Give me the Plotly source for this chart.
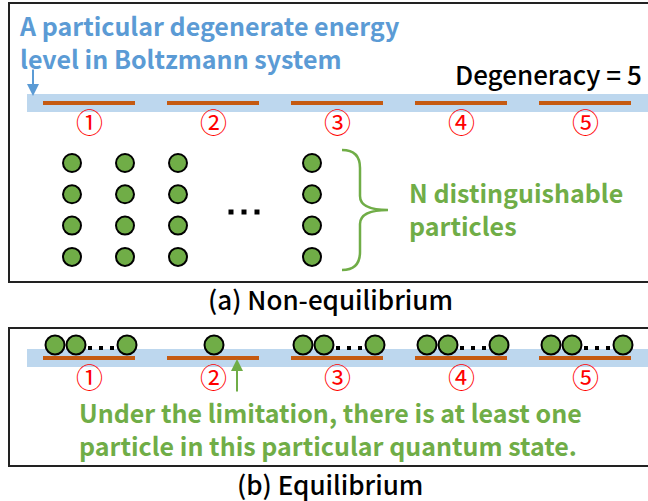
import plotly.graph_objects as go

# ---- diagram data ----
STATES = ["①", "②", "③", "④", "⑤"]
DEGENERACY = len(STATES)
N_ROWS = 4            # rows of particles drawn in the non-equilibrium panel
N_LEFT_COLS = 3       # columns drawn before the "..." (then the N-th column)
EQ_MANY = [True, False, True, True, True]   # equilibrium: many particles or exactly one

TITLE_LINES = ["A particular degenerate energy", "level in Boltzmann system"]
PARTICLE_LINES = ["N distinguishable", "particles"]
NOTE_LINES = ["Under the limitation, there is at least one",
              "particle in this particular quantum state."]
CAPTIONS = ["(a) Non-equilibrium", "(b) Equilibrium"]

GREEN = "#70AD47"
BLUE = "#5B9BD5"
BAND = "#BDD7EE"
ORANGE = "#C55A11"
RED = "#FF0000"
FONT = "Noto Sans CJK SC"

W, H = 648, 501
state_x = [89 + 124 * i for i in range(DEGENERACY)]

fig = go.Figure()
shapes = []
annotations = []


def text(x, y, s, size, color="black", anchor="left", weight=400):
    if isinstance(s, list):
        s = "<br>".join(s)
    annotations.append(dict(
        x=x, y=y, text=s, showarrow=False, xanchor=anchor, yanchor="middle",
        align=anchor, borderpad=0,
        font=dict(family=FONT, size=size, color=color, weight=weight),
    ))


def arrow(x, y_tail, y_tip, color):
    annotations.append(dict(
        x=x, y=y_tip, ax=x, ay=y_tail, axref="x", ayref="y", text="",
        showarrow=True, arrowhead=2, arrowsize=1.2, arrowwidth=2, arrowcolor=color,
    ))


def energy_level(y_band, y_line):
    shapes.append(dict(type="rect", x0=27, x1=W + 20, y0=y_band[0], y1=y_band[1],
                       fillcolor=BAND, line_width=0, layer="below"))
    for cx in state_x:
        shapes.append(dict(type="line", x0=cx - 46, x1=cx + 46, y0=y_line, y1=y_line,
                           line=dict(color=ORANGE, width=4)))


# panel frames (right edge runs past the picture)
for y0, y1 in [(3, 282), (328, 466)]:
    shapes.append(dict(type="rect", x0=9, x1=W + 20, y0=y0, y1=y1,
                       line=dict(color="#222222", width=2)))

# ---- (a) non-equilibrium ----
energy_level((94, 112), 103)
for lbl, cx in zip(STATES, state_x):
    text(cx, 121, lbl, 27, RED, "center")

text(18, 41, TITLE_LINES, 25, BLUE, weight=600)
arrow(33, 68, 96, BLUE)
text(643, 73, f"Degeneracy = {DEGENERACY}", 26, anchor="right", weight=500)

col_x = [72 + 53 * c for c in range(N_LEFT_COLS)] + [312]
row_y = [163 + 31.3 * r for r in range(N_ROWS)]
px, py = [], []
for cx in col_x:
    for ry in row_y:
        px.append(cx)
        py.append(ry)
fig.add_trace(go.Scatter(
    x=px, y=py, mode="markers",
    marker=dict(size=18, color=GREEN, line=dict(color="black", width=2)),
    hoverinfo="skip",
))
fig.add_trace(go.Scatter(
    x=[231, 244, 257], y=[212] * 3, mode="markers",
    marker=dict(symbol="square", size=5, color="black"), hoverinfo="skip",
))

# curly brace
shapes.append(dict(
    type="path",
    path="M 342,150 Q 360,150 360,168 L 360,196 Q 360,210 388,210 "
         "Q 360,210 360,224 L 360,252 Q 360,270 342,270",
    line=dict(color=GREEN, width=2.5),
))
text(408, 208, PARTICLE_LINES, 25, GREEN, weight=600)

text(330, 298, CAPTIONS[0], 26, anchor="center", weight=500)

# ---- (b) equilibrium ----
energy_level((349, 367), 358)
for lbl, cx in zip(STATES, state_x):
    text(cx, 376, lbl, 27, RED, "center")

ex, dx = [], []
for cx, many in zip(state_x, EQ_MANY):
    if many:
        ex += [cx - 34, cx - 13, cx + 38]
        dx += [cx + 1, cx + 12, cx + 23]
    else:
        ex.append(cx + 1)
fig.add_trace(go.Scatter(
    x=ex, y=[345] * len(ex), mode="markers",
    marker=dict(size=19, color=GREEN, line=dict(color="black", width=2)),
    hoverinfo="skip",
))
fig.add_trace(go.Scatter(
    x=dx, y=[348] * len(dx), mode="markers",
    marker=dict(symbol="square", size=4, color="black"), hoverinfo="skip",
))

arrow(237, 393, 359, GREEN)
text(78, 428, NOTE_LINES, 25, GREEN, weight=600)

text(330, 483, CAPTIONS[1], 26, anchor="center", weight=500)

fig.update_layout(
    width=W, height=H,
    margin=dict(l=0, r=0, t=0, b=0),
    paper_bgcolor="white", plot_bgcolor="white",
    showlegend=False,
    xaxis=dict(range=[0, W], visible=False, fixedrange=True),
    yaxis=dict(range=[H, 0], visible=False, fixedrange=True),
    shapes=shapes,
    annotations=annotations,
)

# drop the page's default body margin so the figure fills the window
fig.write_html("out.html", config={"displayModeBar": False},
               post_script="document.body.style.margin='0';")
